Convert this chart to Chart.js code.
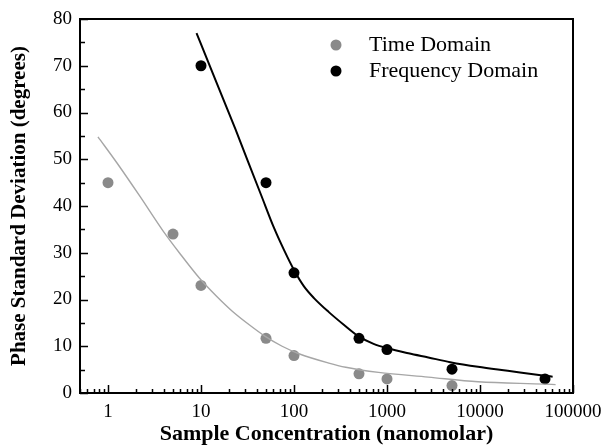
<!DOCTYPE html>
<html lang="en">
<head>
    <meta charset="UTF-8">
    <title>Phase Standard Deviation</title>
    <script src="https://cdn.jsdelivr.net/npm/chart.js"></script>
    <style>
        html, body { margin: 0; padding: 0; background: #fff; }
        #wrap { width: 605px; height: 448px; }
    </style>
</head>
<body>
    <div id="wrap"><canvas id="grafico" width="605" height="448"></canvas></div>

    <script>
        // measured points
        var concentracoes = [1, 5, 10, 50, 100, 500, 1000, 5000];
        var tempo = [45, 34, 23, 11.7, 8, 4.1, 3, 1.6];
        var concFreq = [10, 50, 100, 500, 1000, 5000, 50000];
        var frequencia = [70, 45, 25.7, 11.7, 9.3, 5.1, 3];

        // fitted curves
        var ajusteTempoX = [0.78, 1.25, 2.2, 3.87, 5.9, 9.6, 14.7, 21.7, 33, 50, 74.5, 113, 237, 360, 811, 2780, 9520, 49500, 65000];
        var ajusteTempoY = [54.8, 49.2, 42.1, 34.8, 29.9, 24.6, 20.7, 17.5, 14.6, 12, 10, 8.4, 6.4, 5.5, 4.4, 3.4, 2.4, 1.9, 1.8];
        var ajusteFreqX = [8.95, 12.3, 17, 23.4, 32.2, 44.4, 61, 78, 100, 128, 164, 237, 343, 496, 717, 1040, 1700, 2780, 4775, 9520, 19900, 49500, 60400];
        var ajusteFreqY = [77, 70.2, 63.3, 56.5, 49.4, 42.3, 35.3, 30.6, 26.3, 22.8, 20.3, 17.3, 14.6, 12.1, 10.5, 9.5, 8.5, 7.6, 6.6, 5.6, 4.75, 3.7, 3.5];

        var xTicks = [1, 10, 100, 1000, 10000, 100000];
        var yTicks = [0, 10, 20, 30, 40, 50, 60, 70, 80];

        var fonte = 'Liberation Serif, Times New Roman, serif';

        function pares(xs, ys) {
            return xs.map(function (x, i) { return { x: x, y: ys[i] }; });
        }

        // ticks drawn inward plus the box and the legend
        var moldura = {
            id: 'moldura',
            afterDraw: function (chart) {
                var ctx = chart.ctx, a = chart.chartArea;
                var sx = chart.scales.x, sy = chart.scales.y;
                ctx.save();
                ctx.strokeStyle = '#000';
                ctx.lineWidth = 2;
                ctx.strokeRect(a.left, a.top, a.right - a.left, a.bottom - a.top);
                ctx.lineWidth = 1.5;
                ctx.beginPath();
                for (var e = -1; e <= 5; e++) {
                    for (var m = 1; m <= 9; m++) {
                        var v = m * Math.pow(10, e);
                        if (v < sx.min || v > sx.max) continue;
                        var px = Math.round(sx.getPixelForValue(v)) + 0.5;
                        var len = m === 1 ? 8 : 4;
                        ctx.moveTo(px, a.bottom);
                        ctx.lineTo(px, a.bottom - len);
                    }
                }
                for (var y = 0; y <= 80; y += 5) {
                    var py = Math.round(sy.getPixelForValue(y)) + 0.5;
                    var l = y % 10 === 0 ? 8 : 5;
                    ctx.moveTo(a.left, py);
                    ctx.lineTo(a.left + l, py);
                }
                ctx.stroke();

                // legend
                var itens = [
                    { t: 'Time Domain', c: '#8a8a8a', dy: 26 },
                    { t: 'Frequency Domain', c: '#000', dy: 52 }
                ];
                ctx.font = '22px ' + fonte;
                ctx.textBaseline = 'middle';
                itens.forEach(function (it) {
                    ctx.fillStyle = it.c;
                    ctx.beginPath();
                    ctx.arc(336, a.top + it.dy, 5.5, 0, Math.PI * 2);
                    ctx.fill();
                    ctx.fillStyle = '#000';
                    ctx.fillText(it.t, 369, a.top + it.dy);
                });
                ctx.restore();
            }
        };

        var ctx = document.getElementById('grafico').getContext('2d');
        var grafico = new Chart(ctx, {
            type: 'scatter',
            data: {
                datasets: [
                    {
                        label: 'ajuste tempo',
                        type: 'line',
                        data: pares(ajusteTempoX, ajusteTempoY),
                        borderColor: '#a6a6a6',
                        borderWidth: 1.4,
                        pointRadius: 0,
                        cubicInterpolationMode: 'monotone',
                        fill: false
                    },
                    {
                        label: 'ajuste frequencia',
                        type: 'line',
                        data: pares(ajusteFreqX, ajusteFreqY),
                        borderColor: '#000',
                        borderWidth: 2,
                        pointRadius: 0,
                        cubicInterpolationMode: 'monotone',
                        fill: false
                    },
                    {
                        label: 'Time Domain',
                        data: pares(concentracoes, tempo),
                        backgroundColor: '#8a8a8a',
                        borderWidth: 0,
                        pointRadius: 5.5
                    },
                    {
                        label: 'Frequency Domain',
                        data: pares(concFreq, frequencia),
                        backgroundColor: '#000',
                        borderWidth: 0,
                        pointRadius: 5.5
                    }
                ]
            },
            options: {
                responsive: false,
                animation: false,
                clip: false,
                layout: { padding: { top: 19, right: 32, left: 7, bottom: 0 } },
                plugins: {
                    legend: { display: false },
                    tooltip: { enabled: false }
                },
                scales: {
                    x: {
                        type: 'logarithmic',
                        min: 0.5,
                        max: 100000,
                        afterBuildTicks: function (s) {
                            s.ticks = xTicks.map(function (v) { return { value: v }; });
                        },
                        afterFit: function (s) {
                            s.height = 55;
                            s.paddingLeft = 0;
                            s.paddingRight = 0;
                        },
                        grid: { display: false, drawTicks: false },
                        border: { display: false },
                        ticks: {
                            color: '#000',
                            font: { family: fonte, size: 19 },
                            padding: 8,
                            maxRotation: 0,
                            autoSkip: false,
                            callback: function (v) { return String(v); }
                        },
                        title: {
                            display: true,
                            text: 'Sample Concentration (nanomolar)',
                            color: '#000',
                            font: { family: fonte, size: 22, weight: 'bold' },
                            padding: { top: 0, bottom: 0 }
                        }
                    },
                    y: {
                        min: 0,
                        max: 80,
                        afterBuildTicks: function (s) {
                            s.ticks = yTicks.map(function (v) { return { value: v }; });
                        },
                        afterFit: function (s) {
                            s.width = 73;
                            s.paddingTop = 0;
                            s.paddingBottom = 0;
                        },
                        grid: { display: false, drawTicks: false },
                        border: { display: false },
                        ticks: {
                            color: '#000',
                            font: { family: fonte, size: 19 },
                            padding: 8
                        },
                        title: {
                            display: true,
                            text: 'Phase Standard Deviation (degrees)',
                            color: '#000',
                            font: { family: fonte, size: 21, weight: 'bold' },
                            padding: { top: 0, bottom: 4 }
                        }
                    }
                }
            },
            plugins: [moldura]
        });
    </script>
</body>
</html>
